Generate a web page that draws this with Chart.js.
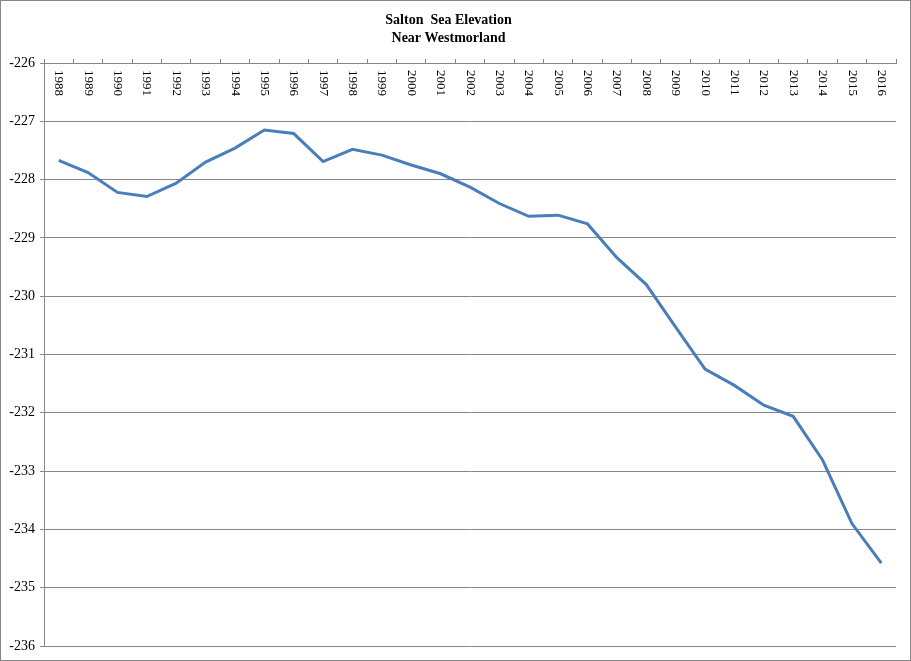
<!DOCTYPE html>
<html lang="en">
<head>
  <meta charset="UTF-8">
  <title>Salton Sea Elevation</title>
  <script src="https://cdn.jsdelivr.net/npm/chart.js"></script>
  <style>
    body { margin: 0; background: #fff; }
    #box { width: 911px; height: 661px; box-sizing: border-box; border: 1px solid #868686; }
    #grafico { display: block; }
  </style>
</head>
<body>
  <div id="box">
    <canvas id="grafico" width="909" height="659"></canvas>
  </div>

  <script>
    // anos e elevacao (pes)
    const anos = ['1988', '1989', '1990', '1991', '1992', '1993', '1994', '1995', '1996', '1997',
      '1998', '1999', '2000', '2001', '2002', '2003', '2004', '2005', '2006', '2007',
      '2008', '2009', '2010', '2011', '2012', '2013', '2014', '2015', '2016'];
    const elevacao = [-227.67, -227.88, -228.22, -228.29, -228.06, -227.70, -227.46, -227.15, -227.21, -227.69,
      -227.48, -227.58, -227.75, -227.90, -228.13, -228.41, -228.63, -228.61, -228.76, -229.34,
      -229.80, -230.53, -231.25, -231.53, -231.87, -232.06, -232.81, -233.90, -234.58];
    const yMin = -236;
    const yMax = -226;
    const titulo = ['Salton  Sea Elevation', 'Near Westmorland'];

    const serif = "'Liberation Serif', 'Times New Roman', serif";
    const cinza = '#868686';

    // rotulos do eixo x girados 90 graus no sentido horario, dentro da area do grafico
    const rotulosX = {
      id: 'rotulosX',
      afterDraw(chart) {
        const ctx = chart.ctx;
        const sx = chart.scales.x;
        ctx.save();
        ctx.fillStyle = '#000';
        ctx.font = '13px ' + serif;
        ctx.textAlign = 'left';
        ctx.textBaseline = 'middle';
        sx.ticks.forEach((t, i) => {
          const x = sx.getPixelForTick(i);
          ctx.save();
          ctx.translate(x, chart.chartArea.top + 7);
          ctx.rotate(Math.PI / 2);
          ctx.fillText(anos[i], 0, 0);
          ctx.restore();
        });
        ctx.restore();
      }
    };

    const config = {
      type: 'line',
      data: {
        labels: anos,
        datasets: [{
          label: 'Elevation',
          data: elevacao,
          borderColor: '#4A7EBB',
          borderWidth: 3,
          pointRadius: 0,
          tension: 0,
          fill: false
        }]
      },
      options: {
        responsive: false,
        animation: false,
        layout: { padding: { left: 0, right: 14, top: 0, bottom: 14 } },
        plugins: {
          legend: { display: false },
          tooltip: { enabled: false },
          title: {
            display: true,
            text: titulo,
            color: '#000',
            font: { family: serif, size: 14, weight: 'bold', lineHeight: 1.3 },
            padding: { top: 10, bottom: 0 }
          }
        },
        scales: {
          x: {
            position: 'top',
            offset: true,
            grid: { offset: true, drawOnChartArea: false, drawTicks: true, tickLength: 4, color: cinza },
            border: { color: cinza },
            ticks: { display: false },
            afterFit(s) { s.height = 15.6; }
          },
          y: {
            min: yMin,
            max: yMax,
            ticks: {
              stepSize: 1,
              color: '#000',
              padding: 5,
              font: { family: serif, size: 14 }
            },
            grid: { color: cinza, tickLength: 4 },
            border: { color: cinza },
            afterFit(s) { s.width = 43; }
          }
        }
      },
      plugins: [rotulosX]
    };

    const ctx = document.getElementById('grafico').getContext('2d');
    new Chart(ctx, config);
  </script>
</body>
</html>
